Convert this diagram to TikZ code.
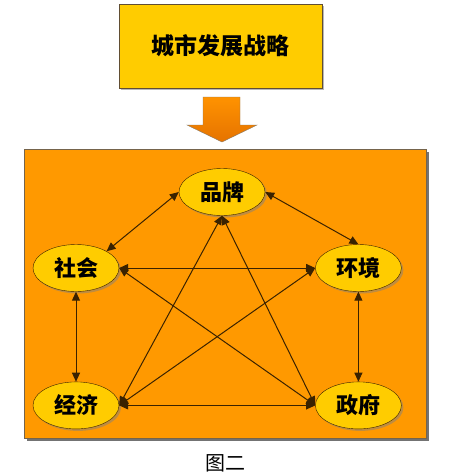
\documentclass[tikz,border=0pt]{standalone}
\usepackage{fontspec}
\newfontfamily\cjk{Noto Sans CJK SC}
\usepackage{tikz}
\usetikzlibrary{positioning, shapes.geometric, shadows, arrows.meta}
\definecolor{goldbox}{HTML}{FFCC00}
\definecolor{orangebg}{HTML}{FF9900}
\definecolor{darkline}{HTML}{3A2200}

\begin{document}
\begin{tikzpicture}[x=1pt, y=-1pt, node distance=90pt and 196pt,
  GOAL/.style={rectangle, draw=darkline!80, fill=goldbox, minimum width=203pt, minimum height=84pt,
    drop shadow={shadow xshift=2pt, shadow yshift=-2pt, fill=black!55}, font=\cjk\bfseries\fontsize{23}{23}\selectfont},
  FAC/.style={ellipse, draw=darkline, fill=goldbox, minimum width=86pt, minimum height=47pt, inner sep=0pt,
    drop shadow={shadow xshift=2pt, shadow yshift=-2pt, fill=black!50}, font=\cjk\bfseries\fontsize{22}{22}\selectfont},
  LINK/.style={<->, >={Triangle[length=9pt, width=8pt]}, draw=darkline, line width=1pt},]
\useasboundingbox (0,0) rectangle (450,475);
%Background
\fill[white] (0,0) rectangle (450,475);
\fill[black!55] (27,152) rectangle (429,441);
\draw[fill=orangebg, draw=darkline!70] (24,149) rectangle (426,438);

%Goal and arrow
\node[GOAL] (goal) at (220.5,46) {城市发展战略};
\draw[draw=darkline!60, top color=orange!85!yellow, bottom color=orange!90!black]
  (203,97) -- (240,97) -- (240,125) -- (257,125) -- (222,142) -- (187,125) -- (203,125) -- cycle;

%Nodes
\node[FAC] (pinpai) at (222,192) {品牌};
\node[FAC] (shehui) at (76,268) {社会};
\node[FAC] (huanjing) [right=of shehui] {环境};
\node[FAC] (jingji) [below=of shehui] {经济};
\node[FAC] (zhengfu) [below=of huanjing] {政府};

%Lines
\draw[LINK] (pinpai.west) -- (shehui.north east);
\draw[LINK] (pinpai.east) -- (huanjing.north);
\draw[LINK] (pinpai.south) -- (jingji.east);
\draw[LINK] (pinpai.south) -- (zhengfu.west);
\draw[LINK] (shehui.east) -- (huanjing.west);
\draw[LINK] (shehui.south) -- (jingji.north);
\draw[LINK] (shehui.east) -- (zhengfu.west);
\draw[LINK] (huanjing.west) -- (jingji.east);
\draw[LINK] (huanjing.south) -- (zhengfu.north);
\draw[LINK] (jingji.east) -- (zhengfu.west);

%Caption
\node[font=\cjk\fontsize{20}{20}\selectfont] (caption) at (225,463) {图二};

\end{tikzpicture}
\end{document}
